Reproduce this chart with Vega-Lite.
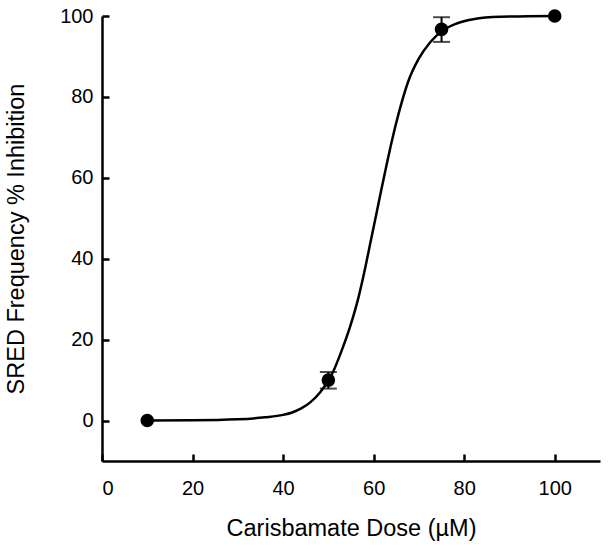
{
  "$schema": "https://vega.github.io/schema/vega-lite/v6.json",
  "width": 498,
  "height": 445,
  "autosize": "none",
  "padding": {"left": 102, "top": 16, "right": 14, "bottom": 89},
  "config": {
    "view": {"stroke": null},
    "font": "Liberation Sans",
    "mark": {"color": "black"},
    "axis": {
      "grid": false,
      "domainColor": "black",
      "domainWidth": 2.5,
      "tickColor": "black",
      "tickWidth": 2.5,
      "tickSize": -7,
      "labelFont": "Liberation Sans",
      "labelFontSize": 20,
      "labelColor": "black",
      "titleFont": "Liberation Sans",
      "titleFontSize": 23.5,
      "titleFontWeight": "normal",
      "titleColor": "black"
    }
  },
  "datasets": {
    "curve": [
      {"x": 10, "y": 0}, {"x": 20, "y": 0.05}, {"x": 30, "y": 0.3}, {"x": 36, "y": 0.8},
      {"x": 40, "y": 1.4}, {"x": 42, "y": 2.0}, {"x": 44, "y": 3.0}, {"x": 46, "y": 4.5}, {"x": 48.2, "y": 7.0},
      {"x": 50, "y": 9.9}, {"x": 51.1, "y": 12.2}, {"x": 52.6, "y": 16.3}, {"x": 54.8, "y": 23.2},
      {"x": 56.6, "y": 30.2}, {"x": 58.1, "y": 37.5}, {"x": 59.2, "y": 43.5}, {"x": 60.7, "y": 51.6},
      {"x": 61.8, "y": 57.6}, {"x": 62.9, "y": 63.4}, {"x": 64, "y": 69}, {"x": 65.5, "y": 75.8},
      {"x": 67.7, "y": 84}, {"x": 70, "y": 89.5}, {"x": 72.5, "y": 93.5}, {"x": 75, "y": 96.2},
      {"x": 78, "y": 98}, {"x": 82, "y": 99.2}, {"x": 88, "y": 99.8}, {"x": 100, "y": 100}
    ],
    "points": [
      {"dose": 10, "inh": 0, "lo": 0, "hi": 0},
      {"dose": 50, "inh": 10, "lo": 7.9, "hi": 12},
      {"dose": 75, "inh": 96.7, "lo": 93.6, "hi": 99.7},
      {"dose": 100, "inh": 100, "lo": 100, "hi": 100}
    ]
  },
  "layer": [
    {
      "data": {"name": "curve"},
      "mark": {"type": "line", "color": "black", "strokeWidth": 2.5, "interpolate": "monotone"},
      "encoding": {
        "x": {"field": "x", "type": "quantitative", "scale": {"domain": [0, 110], "nice": false},
          "axis": {"values": [0, 20, 40, 60, 80, 100], "title": "Carisbamate Dose (µM)", "labelPadding": 24, "titlePadding": 18}},
        "y": {"field": "y", "type": "quantitative", "scale": {"domain": [-10, 100], "nice": false},
          "axis": {"values": [0, 20, 40, 60, 80, 100], "title": "SRED Frequency % Inhibition", "labelPadding": 16, "titlePadding": 31}}
      }
    },
    {
      "data": {"name": "points"},
      "transform": [{"filter": "datum.hi > datum.lo"}],
      "mark": {"type": "errorbar", "ticks": {"size": 17, "thickness": 2, "color": "black"}, "thickness": 2, "color": "black"},
      "encoding": {
        "x": {"field": "dose", "type": "quantitative"},
        "y": {"field": "lo", "type": "quantitative", "title": "SRED Frequency % Inhibition"},
        "y2": {"field": "hi"}
      }
    },
    {
      "data": {"name": "points"},
      "mark": {"type": "point", "filled": true, "color": "black", "opacity": 1, "size": 185},
      "encoding": {
        "x": {"field": "dose", "type": "quantitative"},
        "y": {"field": "inh", "type": "quantitative"}
      }
    }
  ]
}
